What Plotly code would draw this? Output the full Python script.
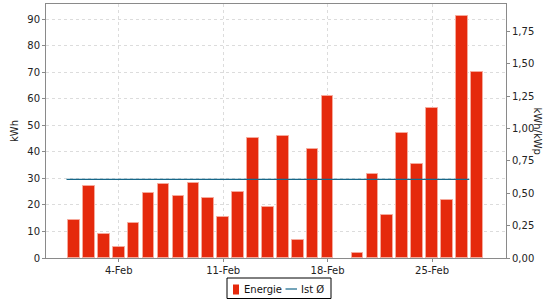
import plotly.graph_objects as go

dates = [f"2023-02-{d:02d}" for d in range(1, 29)]
energie = [14.4, 27.2, 8.9, 4.0, 13.1, 24.4, 27.7, 23.5, 28.3, 22.5,
           15.5, 25.0, 45.3, 19.1, 45.9, 6.8, 41.1, 61.1, 0.0, 2.0,
           31.7, 16.1, 47.0, 35.3, 56.5, 21.9, 91.3, 70.2]
avg_x = ["2023-01-31 12:00", "2023-02-27 12:00"]
avg_y = [29.6, 29.6]

x_tickvals = ["2023-02-04", "2023-02-11", "2023-02-18", "2023-02-25"]
x_ticktext = ["4-Feb", "11-Feb", "18-Feb", "25-Feb"]
y_ticks = [0, 10, 20, 30, 40, 50, 60, 70, 80, 90]
y2_ticks = [0, 0.25, 0.5, 0.75, 1.0, 1.25, 1.5, 1.75]
y2_text = ["0,00", "0,25", "0,50", "0,75", "1,00", "1,25", "1,50", "1,75"]
legend_names = ["Energie", "Ist Ø"]

BAR_COLOR = "#e5290c"
LINE_COLOR = "#17688a"
font = dict(family="DejaVu Sans", size=10, color="#222")
grid = "#dcdcdc"
axcol = "#8a8a8a"

W, H = 560, 300
ML, MR, MT, MB = 46, 54, 4, 42
PW, PH = W - ML - MR, H - MT - MB


def px(x):
    return (x - ML) / PW


def py(y):
    return (H - MB - y) / PH


edge_w = [1 if v > 0 else 0 for v in energie]

fig = go.Figure()
fig.add_trace(go.Bar(
    x=dates, y=energie, name=legend_names[0],
    width=0.78 * 86400000,
    marker=dict(color=BAR_COLOR, line=dict(color="#f6a99b", width=edge_w)),
))
fig.add_trace(go.Scatter(
    x=avg_x, y=avg_y, name=legend_names[1], mode="lines",
    line=dict(color=LINE_COLOR, width=1.2),
))
fig.add_trace(go.Scatter(x=[dates[0]], y=[0], yaxis="y2", showlegend=False,
                         mode="markers", marker=dict(opacity=0), hoverinfo="skip"))

shapes = [
    dict(type="rect", xref="paper", yref="paper",
         x0=px(227), x1=px(331), y0=py(298.5), y1=py(278),
         line=dict(color="#000", width=1), fillcolor="white"),
    dict(type="rect", xref="paper", yref="paper",
         x0=px(233), x1=px(239), y0=py(294.5), y1=py(284.5),
         line=dict(width=0), fillcolor=BAR_COLOR),
    dict(type="line", xref="paper", yref="paper",
         x0=px(285.5), x1=px(297), y0=py(289), y1=py(289),
         line=dict(color=LINE_COLOR, width=1.2)),
]
annotations = [
    dict(text=legend_names[0], xref="paper", yref="paper", x=px(242), y=py(289),
         xanchor="left", yanchor="middle", showarrow=False, font=dict(size=10, color="#111")),
    dict(text=legend_names[1], xref="paper", yref="paper", x=px(299), y=py(289),
         xanchor="left", yanchor="middle", showarrow=False, font=dict(size=10, color="#111")),
    dict(text="kWh/kWp", textangle=90, xref="paper", yref="paper",
         x=1.0, xshift=39, y=0.5, showarrow=False,
         font=dict(size=10, color="#222")),
]

fig.update_layout(
    width=W, height=H,
    margin=dict(l=ML, r=MR, t=MT, b=MB, autoexpand=False),
    paper_bgcolor="white", plot_bgcolor="white",
    font=font,
    bargap=0,
    showlegend=False,
    xaxis=dict(
        type="date", range=["2023-01-30 03:00", "2023-03-01 23:00"],
        tickvals=x_tickvals, ticktext=x_ticktext,
        showgrid=True, gridcolor=grid, griddash="3px,3px", gridwidth=1,
        showline=True, linecolor=axcol, linewidth=1, mirror=True,
        ticks="outside", ticklen=3, tickcolor=axcol,
        zeroline=False, automargin=False,
    ),
    yaxis=dict(
        range=[0, 95.7], tickvals=y_ticks,
        showgrid=True, gridcolor=grid, griddash="3px,3px", gridwidth=1,
        showline=True, linecolor=axcol, linewidth=1,
        ticks="outside", ticklen=3, tickcolor=axcol,
        zeroline=False, automargin=False,
        title=dict(text="kWh", standoff=6, font=dict(size=10)),
    ),
    yaxis2=dict(
        overlaying="y", side="right", range=[0, 1.963],
        tickvals=y2_ticks, ticktext=y2_text,
        showgrid=False, zeroline=False, automargin=False,
        showline=True, linecolor=axcol, linewidth=1,
        ticks="outside", ticklen=3, tickcolor=axcol,
    ),
    shapes=shapes,
    annotations=annotations,
)

fig.write_html("out.html")
